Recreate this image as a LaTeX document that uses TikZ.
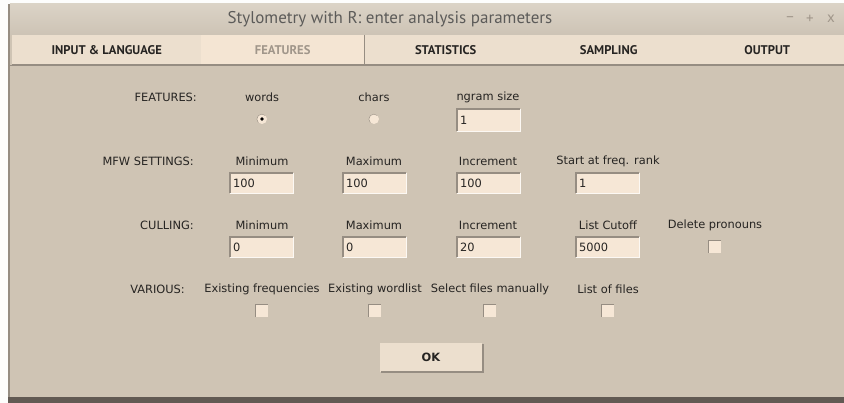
\documentclass[tikz,border=0pt]{standalone}
\usepackage{fontspec}
\setmainfont{DejaVu Sans}
\newfontfamily\uifont{PT Sans}
\definecolor{winbg}{RGB}{207,196,180}
\definecolor{titletop}{RGB}{219,211,198}
\definecolor{titlebot}{RGB}{205,195,181}
\definecolor{tabbg}{RGB}{236,223,206}
\definecolor{tabsel}{RGB}{244,229,211}
\definecolor{fieldbg}{RGB}{246,231,214}
\definecolor{ink}{RGB}{38,36,34}
\definecolor{dimink}{RGB}{160,150,138}
\definecolor{edge}{RGB}{150,141,130}
\definecolor{frame}{RGB}{98,90,83}
\begin{document}
\begin{tikzpicture}[x=1pt,y=-1pt,
	every node/.style={inner sep=0pt,text=ink},
	lbl/.style={font=\fontsize{11.4}{13}\selectfont},
	rowlbl/.style={lbl,anchor=east},
	entry/.style={fill=fieldbg,anchor=north west,minimum height=20pt,
		text width=57pt,inner xsep=3pt,align=left,font=\fontsize{11.4}{13}\selectfont},
	chkbox/.style={fill=fieldbg,minimum size=12pt},
	radio/.style={circle,fill=fieldbg,minimum size=10pt},
	tabbox/.style={fill=tabbg,anchor=north west,minimum height=29pt,
		font=\uifont\bfseries\fontsize{12.6}{15}\selectfont},
	winbtn/.style={font=\uifont\fontsize{15}{17}\selectfont,text=dimink},
	sunk/.style={draw=edge,line width=1.2pt},
	lit/.style={draw=white!70!fieldbg,line width=0.8pt}]
\useasboundingbox (0,0) rectangle (844,403);
\fill[white!96!winbg] (0,0) rectangle (844,403);
% window
\fill[winbg] (8,4) rectangle (844,397);
\fill[frame] (8,397) rectangle (844,403);
\draw[edge,line width=2pt] (9,4) -- (9,397);
\shade[top color=titletop,bottom color=titlebot] (10,4) rectangle (844,35);
\node[font=\uifont\fontsize{17}{19}\selectfont,text=ink!75] (title) at (390,19) {Stylometry with R: enter analysis parameters};
\node[winbtn] (wmin) at (790,19) {–};
\node[winbtn] (wmax) at (810,19) {+};
\node[winbtn] (wclose) at (831,18.5) {x};
% tabs
\foreach \nm/\xa/\w/\t in {tinp/12/189/INPUT \& LANGUAGE,tfeat/201/163/FEATURES,
	tstat/364/163/STATISTICS,tsamp/527/163/SAMPLING,tout/690/154/OUTPUT}{
	\node[tabbox,minimum width=\w pt] (\nm) at (\xa,35) {\t};
	\draw[edge] (\nm.north east) -- (\nm.south east) -- (\nm.south west);
}
\node[tabbox,fill=tabsel,minimum width=163pt,text=dimink] (tfeat) at (201,35) {FEATURES};
\draw[edge] (tfeat.north east) -- (tfeat.south east) -- (tfeat.south west);
\draw[edge,line width=1.5pt] (10,65.5) -- (844,65.5);
% row labels
\node[rowlbl] (rfeat) at (197,97) {FEATURES:};
\node[rowlbl] (rmfw) at (194,161) {MFW SETTINGS:};
\node[rowlbl] (rcull) at (194,225) {CULLING:};
\node[rowlbl] (rvar) at (185,289) {VARIOUS:};
% features
\node[lbl] (lwords) at (262,97) {words};
\node[lbl] (lchars) at (374,97) {chars};
\node[lbl] (lngram) at (488,97) {ngram size};
\node[radio] (rwords) at (262,119) {};
\node[radio] (rchars) at (374,119) {};
\fill[black] (rwords.center) circle (1.8pt);
\draw[edge] (rwords.south west) arc[start angle=225,end angle=45,radius=5pt];
\draw[edge] (rchars.south west) arc[start angle=225,end angle=45,radius=5pt];
\node[entry,minimum height=22pt] (engram) at (457,109) {1};
% column headers
\foreach \nm/\x/\y/\t in {mmin/262/161/Minimum,mmax/374/161/Maximum,minc/488/161/Increment,
	mrank/608/161/Start at freq. rank,cmin/262/225/Minimum,cmax/374/225/Maximum,
	cinc/488/225/Increment,ccut/608/225/List Cutoff,cpron/715/225/Delete pronouns,
	vfreq/262/289/Existing frequencies,vlist/375/289/Existing wordlist,
	vsel/490/289/Select files manually,vfiles/608/289/List of files}
	\node[lbl] (\nm) at (\x,\y) {\t};
% entry fields
\foreach \nm/\x/\y/\v in {emmin/230/173/100,emmax/343/173/100,eminc/457/173/100,
	emrank/576/173/1,ecmin/230/237/0,ecmax/343/237/0,ecinc/457/237/20,eccut/576/237/5000}
	\node[entry] (\nm) at (\x,\y) {\v};
\foreach \nm in {engram,emmin,emmax,eminc,emrank,ecmin,ecmax,ecinc,eccut}{
	\draw[lit] (\nm.south west) -- (\nm.south east) -- (\nm.north east);
	\draw[sunk] (\nm.south west) -- (\nm.north west) -- (\nm.north east);
}
% check boxes
\foreach \nm/\x/\y in {kpron/715/247,kfreq/262/311,klist/375/311,ksel/490/311,kfiles/608/311}{
	\node[chkbox] (\nm) at (\x,\y) {};
	\draw[sunk,line width=1pt] (\nm.south west) -- (\nm.north west) -- (\nm.north east);
}
% button
\node[fill=tabbg,minimum width=102pt,minimum height=29pt,
	font=\fontsize{11.4}{13}\selectfont\bfseries] (ok) at (431,357.5) {OK};
\draw[edge,line width=1.5pt] ([xshift=1pt]ok.south west) -- ([xshift=0.75pt]ok.south east) -- ([xshift=0.75pt,yshift=-1pt]ok.north east);
\end{tikzpicture}
\end{document}
